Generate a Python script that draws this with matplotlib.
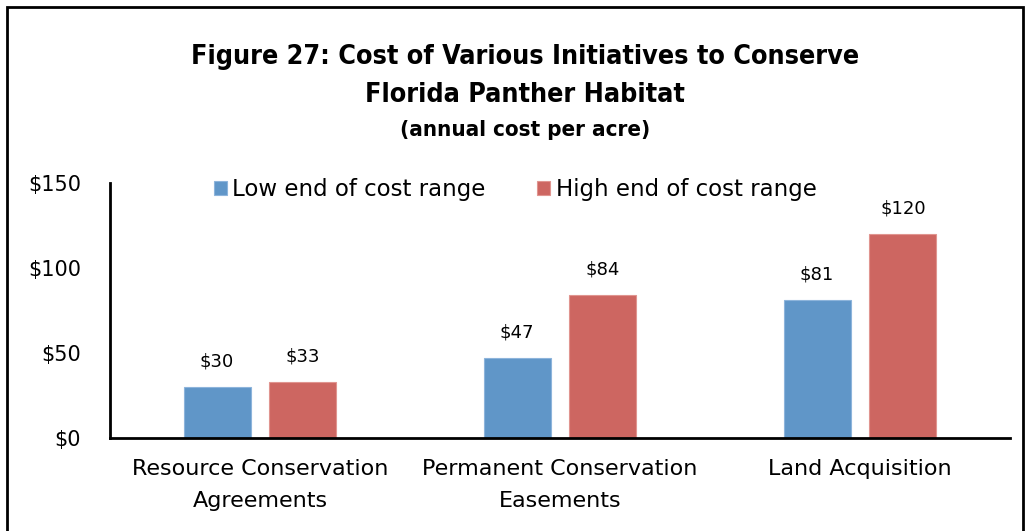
import numpy as np
import matplotlib.pyplot as plt
from matplotlib.patches import Rectangle

categories = ['Resource Conservation\nAgreements', 'Permanent Conservation\nEasements', 'Land Acquisition']
low_vals = [30, 47, 81]
high_vals = [33, 84, 120]
yticks = [0, 50, 100, 150]

blue = '#6096C8'
red = '#CD6661'

fig = plt.figure(figsize=(10.30, 5.31), dpi=100)
W, H = 1030, 531
ax = fig.add_axes([110 / W, 1 - 438 / H, 900 / W, 255 / H])

ind = np.arange(len(categories))
width = 0.223
off = 0.143
rects1 = ax.bar(ind - off, low_vals, width, color=blue, edgecolor='#8db4db', linewidth=0.8)
rects2 = ax.bar(ind + off, high_vals, width, color=red, edgecolor='#e09590', linewidth=0.8)

ax.set_xlim(-0.5, 2.5)
ax.set_ylim(0, 150)
ax.set_yticks(yticks)
ax.set_yticklabels(['$%d' % v for v in yticks], fontsize=15)
ax.set_xticks(ind)
ax.set_xticklabels(categories, fontsize=16, linespacing=1.75)
ax.tick_params(axis='x', length=0, pad=15)
ax.tick_params(axis='y', length=0, pad=21)
for s in ['top', 'right']:
    ax.spines[s].set_visible(False)
for s in ['left', 'bottom']:
    ax.spines[s].set_linewidth(2)

def autolabel(rects):
    for rect in rects:
        h = rect.get_height()
        ax.annotate('$%d' % h, (rect.get_x() + rect.get_width() / 2., h),
                    xytext=(0, 12), textcoords='offset points',
                    ha='center', va='bottom', fontsize=13)

autolabel(rects1)
autolabel(rects2)

leg = ax.legend((rects1[0], rects2[0]), ('Low end of cost range', 'High end of cost range'),
                loc='upper left', bbox_to_anchor=(95 / 900, 1.055), ncol=2, frameon=False,
                fontsize=16.5, handlelength=0.55, handleheight=0.55, handletextpad=0.25,
                columnspacing=2.25, borderaxespad=0)

title_font = dict(ha='center', va='center', fontweight='bold', family='DejaVu Sans',
                  fontstretch='condensed')
fig.text(525 / W, 1 - 57 / H, 'Figure 27: Cost of Various Initiatives to Conserve',
         fontsize=19.3, **title_font)
fig.text(525 / W, 1 - 95 / H, 'Florida Panther Habitat', fontsize=19.3, **title_font)
fig.text(525 / W, 1 - 130 / H, '(annual cost per acre)', fontsize=16, **title_font)

# outer frame
fig.patches.append(Rectangle((7 / W, -0.05), 1016 / W, 1 - 7 / H + 0.05,
                             transform=fig.transFigure, fill=False,
                             edgecolor='black', linewidth=2))

fig.savefig('out.png', dpi=100)
